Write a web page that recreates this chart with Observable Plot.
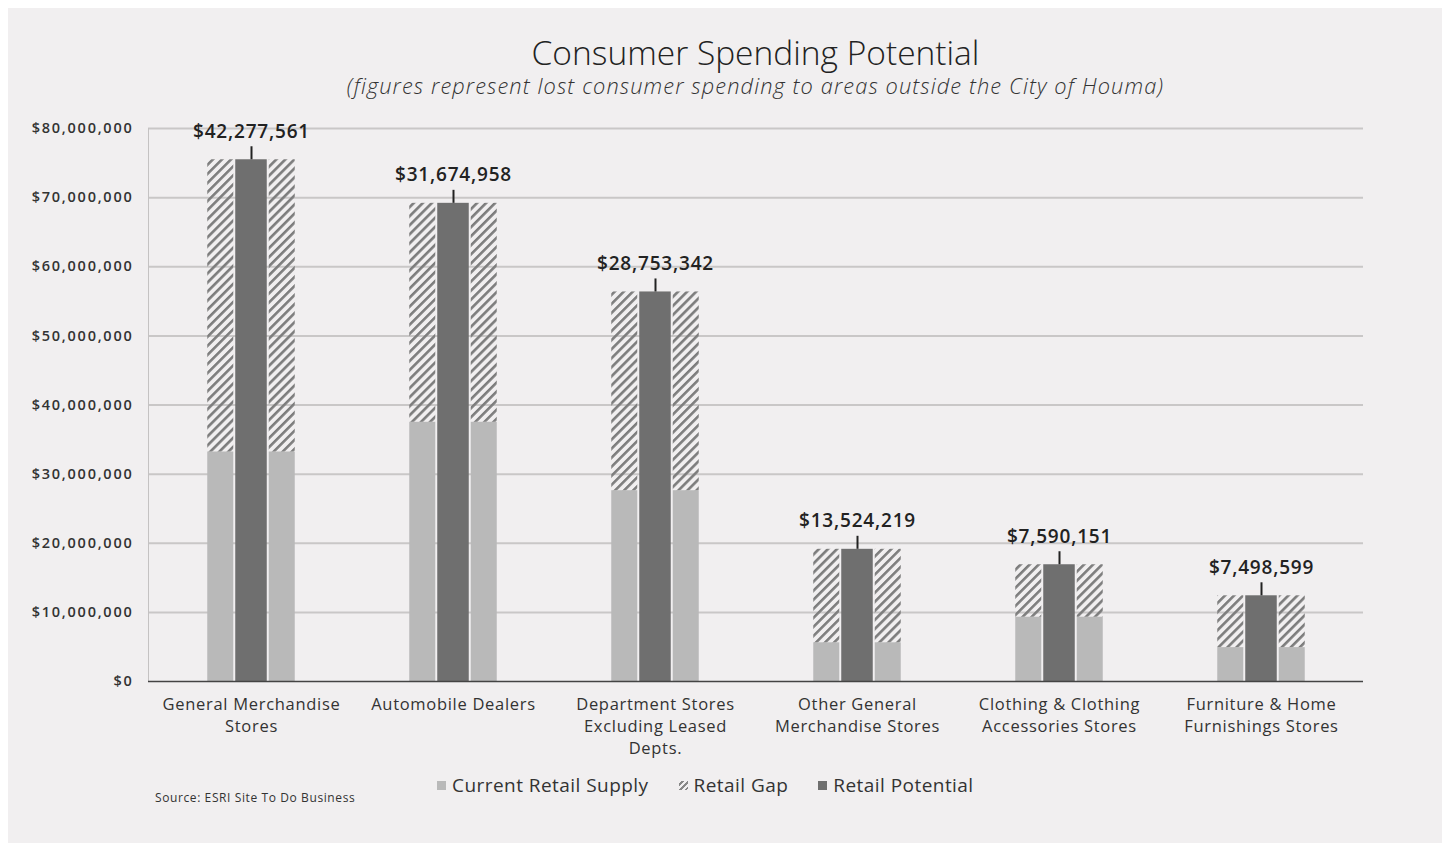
<!DOCTYPE html>
<html><head><meta charset="utf-8">
<script src="https://cdn.jsdelivr.net/npm/d3@7"></script>
<script src="https://cdn.jsdelivr.net/npm/@observablehq/plot@0.6"></script>
<style>
body{margin:0;background:#fff;font-family:"Open Sans",sans-serif;}
#panel{position:absolute;left:8px;top:8px;width:1434px;height:835px;background:#f1eff0;overflow:hidden;}
#title{position:absolute;left:140px;width:1215px;top:23px;line-height:42px;text-align:center;font-size:33.5px;font-weight:300;color:#222;}
#subtitle{position:absolute;left:140px;width:1215px;top:64px;line-height:28px;text-align:center;font-size:21.8px;font-style:italic;font-weight:300;color:#333;letter-spacing:1.1px;}
#chart{position:absolute;left:0;top:92px;}
#legend{position:absolute;left:429px;top:764px;display:flex;align-items:center;font-size:19px;color:#333;line-height:26px;letter-spacing:0.45px;}
#legend .item{display:flex;align-items:center;margin-right:30px;}
#legend .sw{width:9px;height:9px;margin-right:6px;}
#source{position:absolute;left:147px;top:783px;font-size:12px;color:#333;line-height:14px;letter-spacing:0.6px;}
</style>
</head><body>
<div id="panel">
  <div id="title">Consumer Spending Potential</div>
  <div id="subtitle">(figures represent lost consumer spending to areas outside the City of Houma)</div>
  <div id="chart"></div>
  <div id="legend">
    <div class="item"><div class="sw" style="background:#b9b9b9"></div>Current Retail Supply</div>
    <div class="item"><div class="sw" style="background:repeating-linear-gradient(135deg,#f1eff0 0 2px,#888 2px 4px)"></div>Retail Gap</div>
    <div class="item"><div class="sw" style="background:#6f6f6f"></div>Retail Potential</div>
  </div>
  <div id="source">Source: ESRI Site To Do Business</div>
</div>
<script>
const categories = ["General Merchandise Stores", "Automobile Dealers", "Department Stores Excluding Leased Depts.", "Other General Merchandise Stores", "Clothing & Clothing Accessories Stores", "Furniture & Home Furnishings Stores"];
const tickLabels = ["General Merchandise\nStores", "Automobile Dealers", "Department Stores\nExcluding Leased\nDepts.", "Other General\nMerchandise Stores", "Clothing & Clothing\nAccessories Stores", "Furniture & Home\nFurnishings Stores"];
const currentSupply = [33200000, 37500000, 27600000, 5600000, 9300000, 4900000];
const retailGap = [42277561, 31674958, 28753342, 13524219, 7590151, 7498599];
const yTicks = [0, 10000000, 20000000, 30000000, 40000000, 50000000, 60000000, 70000000, 80000000];

const data = categories.map((c, i) => ({
  category: c,
  supply: currentSupply[i],
  gap: retailGap[i],
  potential: currentSupply[i] + retailGap[i]
}));

const W = 1434, H = 661, mL = 140, mR = 79, mT = 28, mB = 80;
const half = (W - mL - mR) / categories.length / 2;
const unit = 80000000 / (H - mT - mB); // data units per pixel
const money = d => "$" + d3.format(",")(d);

const plot = Plot.plot({
  width: W, height: H, marginLeft: mL, marginRight: mR, marginTop: mT, marginBottom: mB,
  style: {background: "transparent", fontFamily: "'Open Sans', sans-serif", color: "#333", overflow: "visible"},
  x: {domain: categories, padding: 0, label: null},
  y: {domain: [0, 80000000], label: null},
  marks: [
    Plot.gridY(yTicks.slice(1), {stroke: "#c9c7c7", strokeOpacity: 1, strokeWidth: 2}),
    Plot.frame({anchor: "left", stroke: "#c4c2c2"}),
    // supply (left & right)
    Plot.barY(data, {x: "category", y1: 0, y2: "supply", fill: "#b9b9b9", insetLeft: half - 44, insetRight: half + 17.5}),
    Plot.barY(data, {x: "category", y1: 0, y2: "supply", fill: "#b9b9b9", insetLeft: half + 17.5, insetRight: half - 44}),
    // gap (hatched)
    Plot.barY(data, {x: "category", y1: "supply", y2: "potential", fill: "url(#hatch)", insetLeft: half - 44, insetRight: half + 17.5}),
    Plot.barY(data, {x: "category", y1: "supply", y2: "potential", fill: "url(#hatch)", insetLeft: half + 17.5, insetRight: half - 44}),
    // potential (middle)
    Plot.barY(data, {x: "category", y1: 0, y2: "potential", fill: "#6f6f6f", insetLeft: half - 16, insetRight: half - 16}),
    Plot.ruleY([0], {stroke: "#444", strokeWidth: 1.5}),
    // callouts
    Plot.ruleX(data, {x: "category", y1: "potential", y2: d => d.potential + 13 * unit, stroke: "#222", strokeWidth: 2}),
    Plot.text(data, {x: "category", y: "potential", dy: -28, text: d => money(d.gap), fontSize: 19, fontWeight: 600, fill: "#222"}),
    Plot.axisY(yTicks, {tickSize: 0, tickPadding: 15, fontSize: 14.5, fontWeight: 600, fill: "#333", tickFormat: money}),
    Plot.axisX({tickSize: 0, tickPadding: 13, fontSize: 16.5, lineHeight: 1.33, fill: "#333",
      tickFormat: d => tickLabels[categories.indexOf(d)]})
  ]
});

const defs = d3.select(plot).insert("defs", ":first-child");
const pat = defs.append("pattern").attr("id", "hatch").attr("patternUnits", "userSpaceOnUse")
  .attr("width", 6.4).attr("height", 6.4).attr("patternTransform", "rotate(45)");
pat.append("rect").attr("x", 0).attr("y", 0).attr("width", 2.6).attr("height", 6.4).attr("fill", "#7d7d7d");

d3.select(plot).selectAll('g[aria-label="y-axis tick label"] text').style("letter-spacing", "1.75px");
d3.select(plot).selectAll('g[aria-label="x-axis tick label"] text').style("letter-spacing", "0.7px");
d3.select(plot).selectAll('g[aria-label="text"] text').style("letter-spacing", "0.8px");

document.getElementById("chart").appendChild(plot);
</script>
</body></html>
